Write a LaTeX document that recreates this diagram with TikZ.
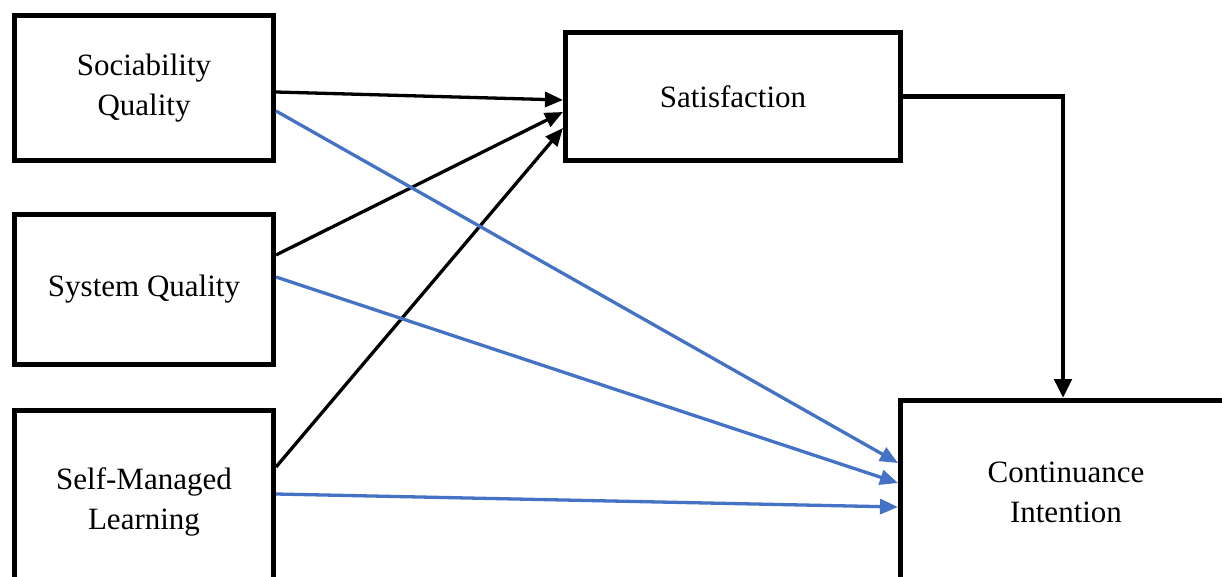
\documentclass[tikz,border=0pt]{standalone}
\usepackage{fontspec}
\setmainfont{Liberation Serif}
\usetikzlibrary{arrows.meta}
\definecolor{lineblue}{HTML}{4472C4}
\begin{document}
\begin{tikzpicture}[x=1pt,y=-1pt,
  box/.style={draw=black,line width=5pt,fill=white,inner sep=2pt,align=center,
    font=\fontsize{31}{40}\selectfont},
  blackarrow/.style={draw=black,line width=3.3pt,-{Triangle[length=18pt,width=15pt]}},
  bluearrow/.style={draw=lineblue,line width=3.3pt,-{Triangle[length=18pt,width=15pt]}}]
\useasboundingbox (0,0) rectangle (1222,577);
\clip (0,0) rectangle (1222,577);
\node[box,minimum width=259pt,minimum height=145pt] (soc) at (144,88) {Sociability\\Quality};
\node[box,minimum width=259pt,minimum height=150pt] (sys) at (144,289.5) {System Quality};
\node[box,minimum width=259pt,minimum height=183pt] (sml) at (144,502) {Self-Managed\\Learning};
\node[box,minimum width=335pt,minimum height=128pt] (sat) at (733,96.5) {Satisfaction};
\node[box,minimum width=331pt,minimum height=183pt] (ci) at (1066,492) {Continuance\\Intention};
% to Satisfaction
\draw[blackarrow] ([yshift=-4pt]soc.east) -- ([yshift=-3.5pt]sat.west);
\draw[blackarrow] ([yshift=34.5pt]sys.east) -- ([yshift=-15.5pt]sat.west);
\draw[blackarrow] ([yshift=35pt]sml.east) -- ([yshift=-31.5pt]sat.west);
% to Continuance Intention
\draw[bluearrow] ([yshift=-23pt]soc.east) -- ([yshift=29pt]ci.west);
\draw[bluearrow] ([yshift=12.5pt]sys.east) -- ([yshift=9pt]ci.west);
\draw[bluearrow] ([yshift=8pt]sml.east) -- ([yshift=-15pt]ci.west);
\draw[draw=black,line width=4.8pt,-{Triangle[length=19pt,width=17pt]}] (sat.east) -| ([xshift=-3pt]ci.north);
\end{tikzpicture}
\end{document}
